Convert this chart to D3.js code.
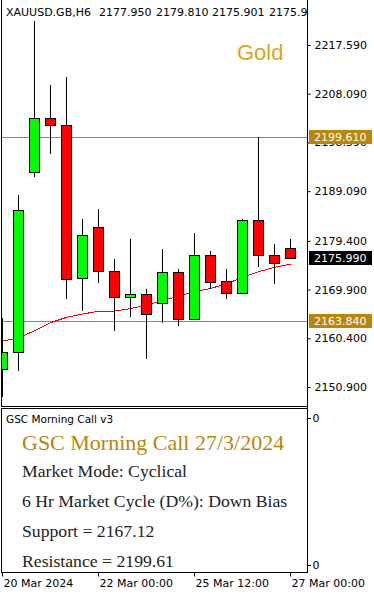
<!DOCTYPE html>
<html>
<head>
<meta charset="utf-8">
<script src="https://cdn.jsdelivr.net/npm/d3@7"></script>
<style>
body { margin: 0; background: #fff; }
svg { display: block; font-family: "DejaVu Sans", sans-serif; }
</style>
</head>
<body>
<div id="chart"></div>
<script>
// H6 bars, XAUUSD
const times = [
    "20 Mar 12:00", "20 Mar 18:00", "21 Mar 00:00", "21 Mar 06:00", "21 Mar 12:00",
    "21 Mar 18:00", "22 Mar 00:00", "22 Mar 06:00", "22 Mar 12:00", "22 Mar 18:00",
    "25 Mar 00:00", "25 Mar 06:00", "25 Mar 12:00", "25 Mar 18:00", "26 Mar 00:00",
    "26 Mar 06:00", "26 Mar 12:00", "26 Mar 18:00", "27 Mar 00:00"
];
const open  = [2154.41, 2157.72, 2192.82, 2203.35, 2201.99, 2172.15, 2182.10, 2173.52, 2168.45, 2169.03,
               2167.28, 2173.32, 2164.16, 2176.64, 2171.57, 2169.23, 2183.46, 2176.64, 2177.95];
const high  = [2164.35, 2188.34, 2222.27, 2209.79, 2211.35, 2183.66, 2185.61, 2175.86, 2179.76, 2170.01,
               2177.81, 2173.91, 2180.93, 2177.42, 2173.91, 2183.60, 2199.61, 2178.78, 2179.81];
const low   = [2148.95, 2154.02, 2191.85, 2196.33, 2168.06, 2165.72, 2171.18, 2161.82, 2164.55, 2156.36,
               2163.38, 2162.79, 2163.96, 2170.01, 2168.06, 2169.10, 2174.30, 2170.98, 2175.90];
const close = [2157.72, 2185.41, 2203.35, 2201.99, 2171.96, 2180.54, 2173.52, 2168.45, 2169.03, 2165.13,
               2173.32, 2164.16, 2176.64, 2171.37, 2169.23, 2183.46, 2176.64, 2175.08, 2175.99];
const ma    = [2159.87, 2160.45, 2161.88, 2163.44, 2164.49, 2165.13, 2165.66, 2165.72, 2166.17, 2166.89,
               2167.73, 2168.64, 2169.48, 2170.11, 2171.04, 2172.25, 2173.38, 2174.24, 2174.88];

const priceTicks = [2217.59, 2208.09, 2198.59, 2189.09, 2179.40, 2169.90, 2160.40, 2150.90];
const tickTimes  = ["20 Mar 12:00", "22 Mar 00:00", "25 Mar 12:00", "27 Mar 00:00"];
const tickLabels = ["20 Mar 2024", "22 Mar 00:00", "25 Mar 12:00", "27 Mar 00:00"];

const resistance = 2199.61;
const support = 2163.84;
const lastPrice = 2175.99;

const headerParts = ["XAUUSD.GB,H6", "2177.950", "2179.810", "2175.901", "2175.990"];
const infoTitle = "GSC Morning Call 27/3/2024";
const infoLines = [
    "Market Mode: Cyclical",
    "6 Hr Market Cycle (D%): Down Bias",
    "Support = 2167.12",
    "Resistance = 2199.61"
];

const gold = "#B8860B";
const W = 374, H = 595;
const paneRight = 307.5, mainBottom = 406.5, subTop = 408.5, subBottom = 572.5;

const svg = d3.select("#chart").append("svg")
    .attr("width", W)
    .attr("height", H);

const x = d3.scalePoint().domain(times).range([2, 290]);
const y = d3.scaleLinear().domain([2150.9, 2217.59]).range([387, 45]);
const px = v => Math.round(v) + 0.5;

svg.append("clipPath").attr("id", "main-clip")
    .append("rect").attr("x", 2).attr("y", 0).attr("width", 305).attr("height", 406);

const main = svg.append("g").attr("clip-path", "url(#main-clip)");

// header line
const headerX = [6, 99, 156, 212, 269];
main.selectAll(".hdr")
    .data(headerParts)
    .enter().append("text")
    .attr("class", "hdr")
    .attr("x", (d, i) => headerX[i])
    .attr("y", 16)
    .attr("font-size", "11px")
    .attr("fill", "#000")
    .text(d => d);

main.append("text")
    .attr("x", 237)
    .attr("y", 60)
    .attr("font-family", "'Liberation Sans', Arial, sans-serif")
    .attr("font-size", "22px")
    .attr("fill", "#DAA520")
    .text("Gold");

// support / resistance
main.selectAll(".level")
    .data([resistance, support])
    .enter().append("line")
    .attr("class", "level")
    .attr("x1", 2).attr("x2", 307)
    .attr("y1", d => px(y(d))).attr("y2", d => px(y(d)))
    .attr("stroke", gold)
    .attr("stroke-width", 1)
    .attr("shape-rendering", "crispEdges");

// moving average
const maLine = d3.line()
    .x((d, i) => x(times[i]) + 0.5)
    .y(d => y(d));

main.append("path")
    .datum(ma)
    .attr("d", maLine)
    .attr("fill", "none")
    .attr("stroke", "#ff0000")
    .attr("stroke-width", 1)
    .attr("shape-rendering", "crispEdges");

// candles
const idx = d3.range(times.length);

main.selectAll(".wick")
    .data(idx)
    .enter().append("line")
    .attr("class", "wick")
    .attr("x1", i => x(times[i]) + 0.5)
    .attr("x2", i => x(times[i]) + 0.5)
    .attr("y1", i => Math.round(y(high[i])))
    .attr("y2", i => Math.round(y(low[i])))
    .attr("stroke", "#000")
    .attr("shape-rendering", "crispEdges");

main.selectAll(".body")
    .data(idx)
    .enter().append("rect")
    .attr("class", "body")
    .attr("x", i => x(times[i]) - 4.5)
    .attr("width", 10)
    .attr("y", i => px(y(Math.max(open[i], close[i]))))
    .attr("height", i => Math.max(2, Math.round(Math.abs(y(open[i]) - y(close[i])))))
    .attr("fill", i => close[i] >= open[i] ? "#00ff00" : "#ff0000")
    .attr("stroke", "#000")
    .attr("stroke-width", 1)
    .attr("shape-rendering", "crispEdges");

// frames
const frame = svg.append("g")
    .attr("stroke", "#000")
    .attr("fill", "none")
    .attr("shape-rendering", "crispEdges");
frame.append("path").attr("d", `M1.5,0V${mainBottom}H${paneRight}`);
frame.append("path").attr("d", `M${paneRight},0V${subBottom}`);
frame.append("rect")
    .attr("x", 1.5).attr("y", subTop)
    .attr("width", paneRight - 1.5).attr("height", subBottom - subTop);

// price axis
const yAxis = svg.append("g")
    .attr("transform", `translate(${paneRight},0)`)
    .call(d3.axisRight(y)
        .tickValues(priceTicks)
        .tickSize(3)
        .tickPadding(4)
        .tickFormat(d3.format(".3f")));
yAxis.select(".domain").remove();
yAxis.selectAll("text")
    .attr("font-size", "11px")
    .attr("font-family", "'DejaVu Sans', sans-serif")
    .attr("fill", "#000");

// price tags
const tags = [
    { v: resistance, bg: gold },
    { v: support, bg: gold },
    { v: lastPrice, bg: "#000" }
];
const tag = svg.selectAll(".tag")
    .data(tags)
    .enter().append("g")
    .attr("class", "tag")
    .attr("transform", d => `translate(309,${Math.round(y(d.v))})`);
tag.append("rect")
    .attr("x", 0).attr("y", -7)
    .attr("width", 63).attr("height", 14)
    .attr("fill", d => d.bg);
tag.append("text")
    .attr("x", 5)
    .attr("dy", "0.36em")
    .attr("font-size", "11px")
    .attr("fill", "#fff")
    .text(d => d.v.toFixed(3));

// indicator pane
svg.append("text")
    .attr("x", 6).attr("y", 423)
    .attr("font-size", "10.5px")
    .attr("fill", "#000")
    .text("GSC Morning Call v3");

svg.append("text")
    .attr("x", 22).attr("y", 450)
    .attr("font-family", "'Liberation Serif', 'DejaVu Serif', serif")
    .attr("font-size", "22px")
    .attr("fill", gold)
    .text(infoTitle);

svg.selectAll(".info")
    .data(infoLines)
    .enter().append("text")
    .attr("class", "info")
    .attr("x", 22)
    .attr("y", (d, i) => 477 + i * 30)
    .attr("font-family", "'Liberation Serif', 'DejaVu Serif', serif")
    .attr("font-size", "17.7px")
    .attr("fill", "#222")
    .text(d => d);

const subLabels = svg.selectAll(".sub")
    .data([418, 565])
    .enter().append("g")
    .attr("class", "sub")
    .attr("transform", d => `translate(${paneRight},${d})`);
subLabels.append("line")
    .attr("x1", 0).attr("x2", 3)
    .attr("stroke", "#000")
    .attr("shape-rendering", "crispEdges");
subLabels.append("text")
    .attr("x", 5)
    .attr("dy", "0.32em")
    .attr("font-size", "11px")
    .text("0");

// time axis
const xAxis = svg.append("g")
    .attr("transform", `translate(0,${subBottom})`)
    .call(d3.axisBottom(x)
        .tickValues(tickTimes)
        .tickSize(4)
        .tickPadding(3)
        .tickFormat((d, i) => tickLabels[i]));
xAxis.select(".domain").remove();
xAxis.selectAll("text")
    .attr("x", 1)
    .attr("text-anchor", "start")
    .attr("font-size", "11px")
    .attr("font-family", "'DejaVu Sans', sans-serif")
    .attr("fill", "#000");
</script>
</body>
</html>
